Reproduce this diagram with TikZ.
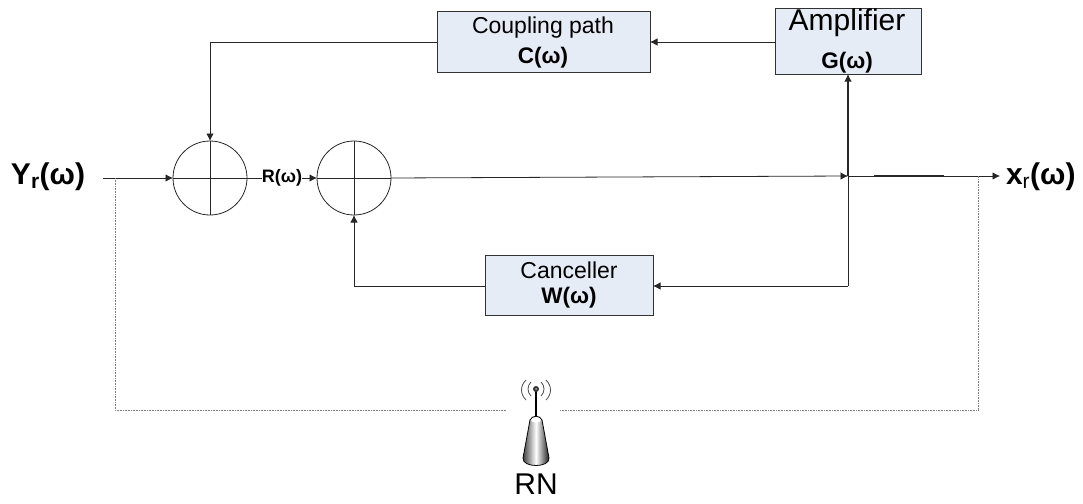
\documentclass[tikz,border=0pt]{standalone}
\usepackage{fontspec}
\setmainfont{Liberation Sans}
\usetikzlibrary{arrows.meta,calc}
\definecolor{boxfill}{RGB}{230,236,246}
\definecolor{boxline}{RGB}{50,50,50}
\tikzset{
  every node/.style={inner sep=0pt,outer sep=0pt},
  blockbox/.style={draw=boxline,fill=boxfill,line width=1pt,minimum height=#1,anchor=north west,align=center},
  wire/.style={draw=black!85,line width=0.8pt},
  arrowwire/.style={wire,-{Latex[length=7.5pt,width=7.5pt]}},
  dotwire/.style={draw=black!50,line width=0.6pt,dash pattern=on 1pt off 0.6pt},
  sumnode/.style={circle,draw=black!85,line width=0.8pt,minimum size=74pt},
  biglabel/.style={font=\bfseries\fontsize{30}{34}\selectfont},
  boxtext/.style={font=\fontsize{23}{26}\selectfont},
  boxbold/.style={font=\bfseries\fontsize{22.5}{26}\selectfont},
  wave/.style={draw=black!70,line width=0.8pt},
}
\begin{document}
\begin{tikzpicture}[x=1pt,y=-1pt]
\useasboundingbox (0,0) rectangle (1083,503);
% blocks
\node[blockbox=60pt,minimum width=213pt] (coupling) at (437,12) {};
\node[boxtext] (ct) at (543,28) {Coupling path};
\node[boxbold] (cb) at (543,58) {C(ω)};
\node[blockbox=65pt,minimum width=146pt] (amp) at (775,9) {};
\node[font=\fontsize{30}{34}\selectfont] (at) at (847,23) {Amplifier};
\node[boxbold] (ab) at (847,63) {G(ω)};
\node[blockbox=60pt,minimum width=168pt] (canc) at (485,255) {};
\node[boxtext] (wt) at (569,270) {Canceller};
\node[boxbold] (wb) at (569,298) {W(ω)};
% summers
\node[sumnode] (s1) at (210,178) {};
\node[sumnode] (s2) at (354,178) {};
\draw[wire] (s1.north) -- (s1.south) (s1.west) -- (s1.east);
\draw[wire] (s2.north) -- (s2.south) (s2.west) -- (s2.east);
% labels
\node[biglabel,anchor=east] (yl) at (85,177) {Y\textsubscript{r}(ω)};
\node[biglabel,anchor=west] (xl) at (1006,177) {x\textsubscript{\mdseries r}(ω)};
\node[font=\bfseries\fontsize{18}{20}\selectfont] (rl) at (282,178) {R(ω)};
% free ends
\coordinate (in) at (103,178);
\coordinate (out) at (1000,176);
\coordinate (tap) at (848,176);
\coordinate (low) at (848,286);
\coordinate (dl) at (115,178);
\coordinate (dr) at (978,176);
\coordinate (dlb) at (115,410);
\coordinate (drb) at (978,410);
\coordinate (al) at (506,410);
\coordinate (ar) at (560,410);
% connectors
\draw[arrowwire] (in) -- (s1.west);
\draw[wire] (s1.east) -- (rl.west);
\draw[arrowwire] (rl.east) -- (s2.west);
\draw[arrowwire] (s2.east) -- (tap);
\draw[arrowwire] (tap) -- (out);
\draw[wire,line width=1.3pt] (874,176) -- (944,176);
\draw[arrowwire,line width=1.1pt] (tap) -- (amp.south);
\draw[wire] (tap) -- (low);
\draw[arrowwire] (low) -- (canc.east |- low);
\draw[arrowwire] (canc.west |- low) -| (s2.south);
\draw[arrowwire] (amp.west |- 0,42) -- (coupling.east |- 0,42);
\draw[arrowwire] (coupling.west |- 0,42) -| (s1.north);
\draw[dotwire] (dl) -- (dlb) -- (al);
\draw[dotwire] (ar) -- (drb) -- (dr);
% antenna
\draw[black,line width=1.3pt] (536,389) -- (536,418);
\fill[black!80] (536,389) circle (3pt);
\fill[black!30] (536,389) circle (1pt);
\draw[wave] (531,382) .. controls (527,386) and (527,392) .. (531,396);
\draw[wave] (541,382) .. controls (545,386) and (545,392) .. (541,396);
\draw[wave] (526,380) .. controls (520,386) and (520,394) .. (526,400);
\draw[wave] (546,380) .. controls (552,386) and (552,394) .. (546,400);
\path[left color=black!80,right color=black!95,middle color=white,draw=black,line width=0.8pt]
  (530,420) .. controls (532,415) and (540,415) .. (542,420) -- (549,458)
  .. controls (550,468) and (522,468) .. (523,458) -- cycle;
\fill[white] (536,420) ellipse (5pt and 2.5pt);
\node[font=\fontsize{30}{34}\selectfont] (rn) at (536,484) {RN};
\end{tikzpicture}
\end{document}
